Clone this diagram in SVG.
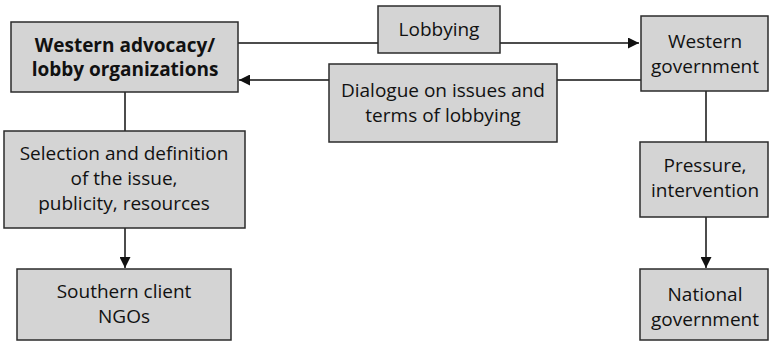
<svg xmlns="http://www.w3.org/2000/svg" width="769" height="341" viewBox="0 0 769 341">
<style>
.box{fill:#d4d4d4;stroke:#2b2b2b;stroke-width:1.5}
.t{font-family:"Open Sans","Noto Sans",sans-serif;font-size:19px;fill:#111;text-anchor:middle}
.b{font-weight:bold}
.ln{stroke:#111;stroke-width:1.5;fill:none}
</style>
<defs>
<marker id="ah" viewBox="0 0 10 10" refX="10" refY="5" markerWidth="19" markerHeight="11" markerUnits="userSpaceOnUse" orient="auto">
<path d="M0,0 L10,5 L0,10 Z" fill="#111"/>
</marker>
</defs>
<g id="connectors">
<line class="ln" x1="238" y1="43" x2="378" y2="43"/>
<line class="ln" x1="500" y1="43" x2="639" y2="43" marker-end="url(#ah)"/>
<line class="ln" x1="641" y1="80" x2="557" y2="80"/>
<line class="ln" x1="329" y1="80" x2="239" y2="80" marker-end="url(#ah)"/>
<line class="ln" x1="125" y1="92" x2="125" y2="131"/>
<line class="ln" x1="125" y1="228" x2="125" y2="268" marker-end="url(#ah)"/>
<line class="ln" x1="706" y1="91" x2="706" y2="142"/>
<line class="ln" x1="706" y1="217" x2="706" y2="268" marker-end="url(#ah)"/>
</g>
<g id="advocacy">
<rect class="box" x="11" y="22" width="227" height="70"/>
<text class="t b" x="125" y="52">Western advocacy/</text>
<text class="t b" x="125" y="76">lobby organizations</text>
</g>
<g id="lobbying">
<rect class="box" x="378" y="6" width="122" height="47"/>
<text class="t" x="439" y="36">Lobbying</text>
</g>
<g id="dialogue">
<rect class="box" x="329" y="64" width="228" height="78"/>
<text class="t" x="443" y="97">Dialogue on issues and</text>
<text class="t" x="443" y="122">terms of lobbying</text>
</g>
<g id="western-government">
<rect class="box" x="641" y="16" width="127" height="75"/>
<text class="t" x="705" y="48">Western</text>
<text class="t" x="705" y="73">government</text>
</g>
<g id="selection">
<rect class="box" x="4" y="131" width="241" height="97"/>
<text class="t" x="124" y="160">Selection and definition</text>
<text class="t" x="124" y="185">of the issue,</text>
<text class="t" x="124" y="210">publicity, resources</text>
</g>
<g id="southern">
<rect class="box" x="17" y="269" width="214" height="71"/>
<text class="t" x="124" y="298">Southern client</text>
<text class="t" x="124" y="323">NGOs</text>
</g>
<g id="pressure">
<rect class="box" x="640" y="142" width="128" height="75"/>
<text class="t" x="705" y="172">Pressure,</text>
<text class="t" x="705" y="197">intervention</text>
</g>
<g id="national">
<rect class="box" x="640" y="269" width="128" height="71"/>
<text class="t" x="705" y="301">National</text>
<text class="t" x="705" y="326">government</text>
</g>
</svg>
